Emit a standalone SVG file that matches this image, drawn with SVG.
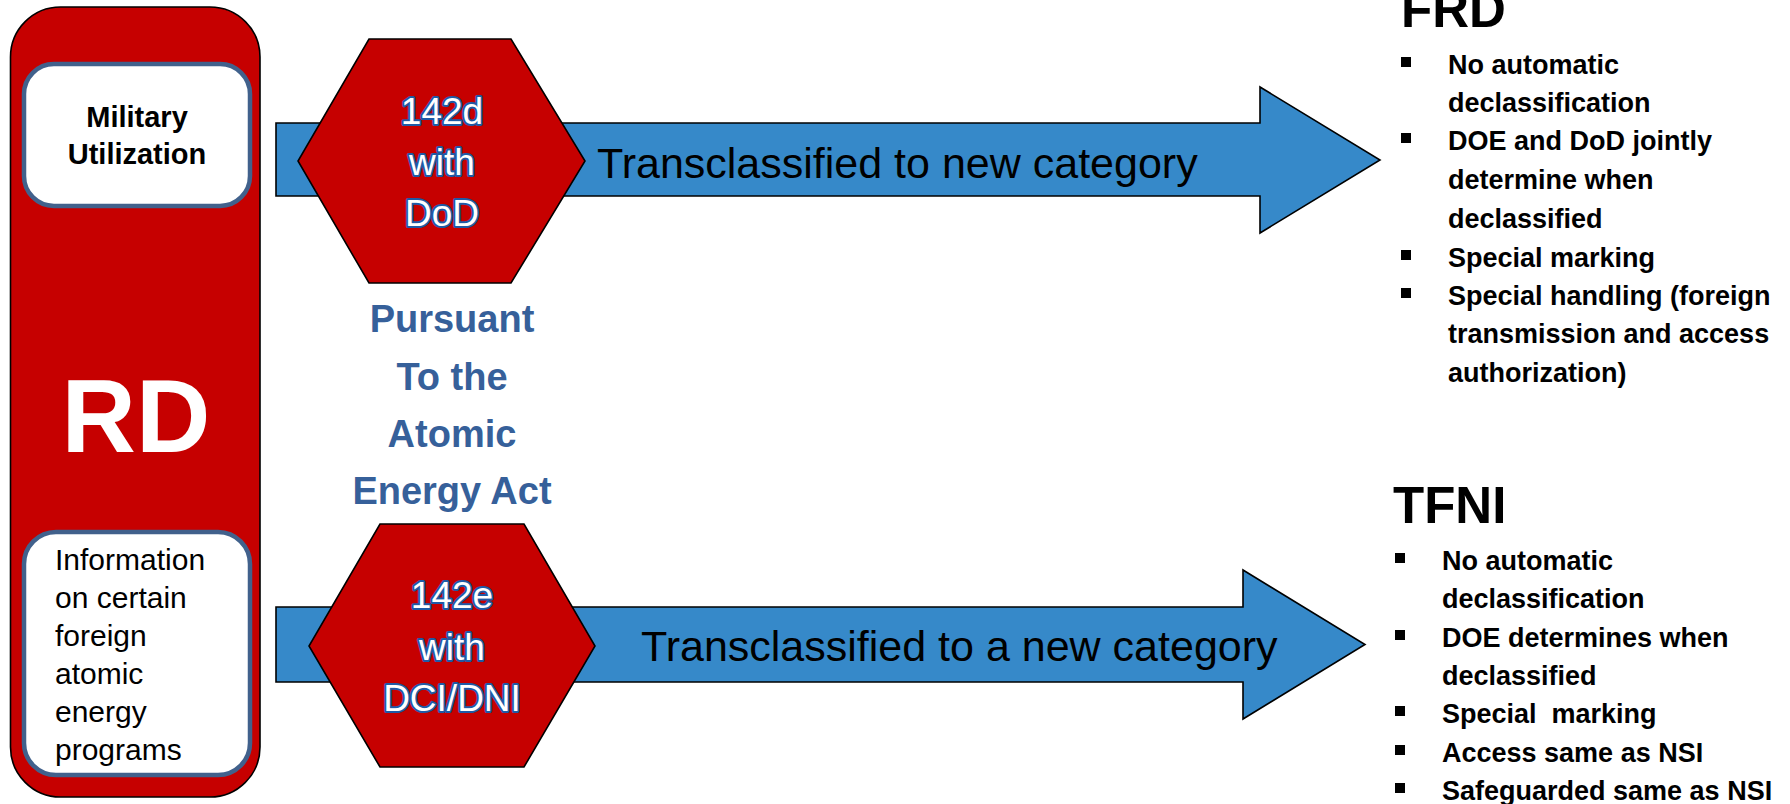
<svg xmlns="http://www.w3.org/2000/svg" width="1790" height="804" viewBox="0 0 1790 804">
<style>
text{font-family:"Liberation Sans",Arial,sans-serif}
.red{fill:#C60000;stroke:#000;stroke-width:1.6}
.wbox{fill:#fff;stroke:#41618C;stroke-width:4.5}
.arrow{fill:#3689C9;stroke:#000;stroke-width:1.6}
.blk{fill:#000;font-weight:bold}
.hx{fill:#fff;stroke:#1F5AA6;stroke-width:4;stroke-linejoin:round;paint-order:stroke;font-size:37px;text-anchor:middle}
.lbl{fill:#000;font-size:43px}
.blue{fill:#36609A;font-weight:bold;font-size:38px;text-anchor:middle}
.bul{font-size:27px;font-weight:bold;fill:#000}
.sq{fill:#000}
</style>
<rect width="1790" height="804" fill="#fff"/>
<g id="rd">
<rect class="red" x="10.5" y="7" width="249.5" height="790" rx="50" ry="50"/>
<text x="136" y="452" text-anchor="middle" style="font-size:103px;font-weight:bold;fill:#fff">RD</text>
</g>
<g id="military">
<rect class="wbox" x="24" y="64" width="226" height="142" rx="30" ry="30"/>
<text class="blk" x="137" y="127" text-anchor="middle" font-size="29">Military</text>
<text class="blk" x="137" y="164" text-anchor="middle" font-size="29">Utilization</text>
</g>
<g id="info">
<rect class="wbox" x="24" y="532" width="226" height="243" rx="32" ry="32"/>
<text x="55" y="570" font-size="30" fill="#000">Information</text>
<text x="55" y="608" font-size="30" fill="#000">on certain</text>
<text x="55" y="646" font-size="30" fill="#000">foreign</text>
<text x="55" y="684" font-size="30" fill="#000">atomic</text>
<text x="55" y="722" font-size="30" fill="#000">energy</text>
<text x="55" y="760" font-size="30" fill="#000">programs</text>
</g>
<g id="connectors">
<g id="arrow-frd">
<polygon class="arrow" points="276,123 1260,123 1260,87 1380,160 1260,233 1260,196 276,196"/>
<text class="lbl" x="597" y="178">Transclassified to new category</text>
</g>
<g id="arrow-tfni">
<polygon class="arrow" points="276,607 1243,607 1243,570 1365,644.5 1243,719 1243,682 276,682"/>
<text class="lbl" x="641" y="661">Transclassified to a new category</text>
</g>
</g>
<g id="hex-142d">
<polygon class="red" points="369,39 511,39 585,161 511,283 369,283 298,161"/>
<text class="hx" x="442" y="124">142d</text>
<text class="hx" x="442" y="175">with</text>
<text class="hx" x="442" y="226">DoD</text>
</g>
<g id="hex-142e">
<polygon class="red" points="380,524 524,524 595,646 524,767 380,767 309,646"/>
<text class="hx" x="452" y="608">142e</text>
<text class="hx" x="452" y="660">with</text>
<text class="hx" x="452" y="711">DCI/DNI</text>
</g>
<g id="pursuant">
<text class="blue" x="452" y="332">Pursuant</text>
<text class="blue" x="452" y="390">To the</text>
<text class="blue" x="452" y="447">Atomic</text>
<text class="blue" x="452" y="504">Energy Act</text>
</g>
<g id="frd">
<text x="1401" y="27" style="font-size:51px;font-weight:bold;fill:#000">FRD</text>
<rect class="sq" x="1401" y="57" width="10" height="10"/>
<text class="bul" x="1448" y="74">No automatic</text>
<text class="bul" x="1448" y="112">declassification</text>
<rect class="sq" x="1401" y="133" width="10" height="10"/>
<text class="bul" x="1448" y="150">DOE and DoD jointly</text>
<text class="bul" x="1448" y="189">determine when</text>
<text class="bul" x="1448" y="228">declassified</text>
<rect class="sq" x="1401" y="250" width="10" height="10"/>
<text class="bul" x="1448" y="267">Special marking</text>
<rect class="sq" x="1401" y="288" width="10" height="10"/>
<text class="bul" x="1448" y="305">Special handling (foreign</text>
<text class="bul" x="1448" y="343">transmission and access</text>
<text class="bul" x="1448" y="382">authorization)</text>
</g>
<g id="tfni">
<text x="1393" y="523" style="font-size:51px;font-weight:bold;fill:#000">TFNI</text>
<rect class="sq" x="1395" y="553" width="10" height="10"/>
<text class="bul" x="1442" y="570">No automatic</text>
<text class="bul" x="1442" y="608">declassification</text>
<rect class="sq" x="1395" y="630" width="10" height="10"/>
<text class="bul" x="1442" y="647">DOE determines when</text>
<text class="bul" x="1442" y="685">declassified</text>
<rect class="sq" x="1395" y="706" width="10" height="10"/>
<text class="bul" x="1442" y="723">Special&#160; marking</text>
<rect class="sq" x="1395" y="745" width="10" height="10"/>
<text class="bul" x="1442" y="762">Access same as NSI</text>
<rect class="sq" x="1395" y="783" width="10" height="10"/>
<text class="bul" x="1442" y="800">Safeguarded same as NSI</text>
</g>
</svg>
